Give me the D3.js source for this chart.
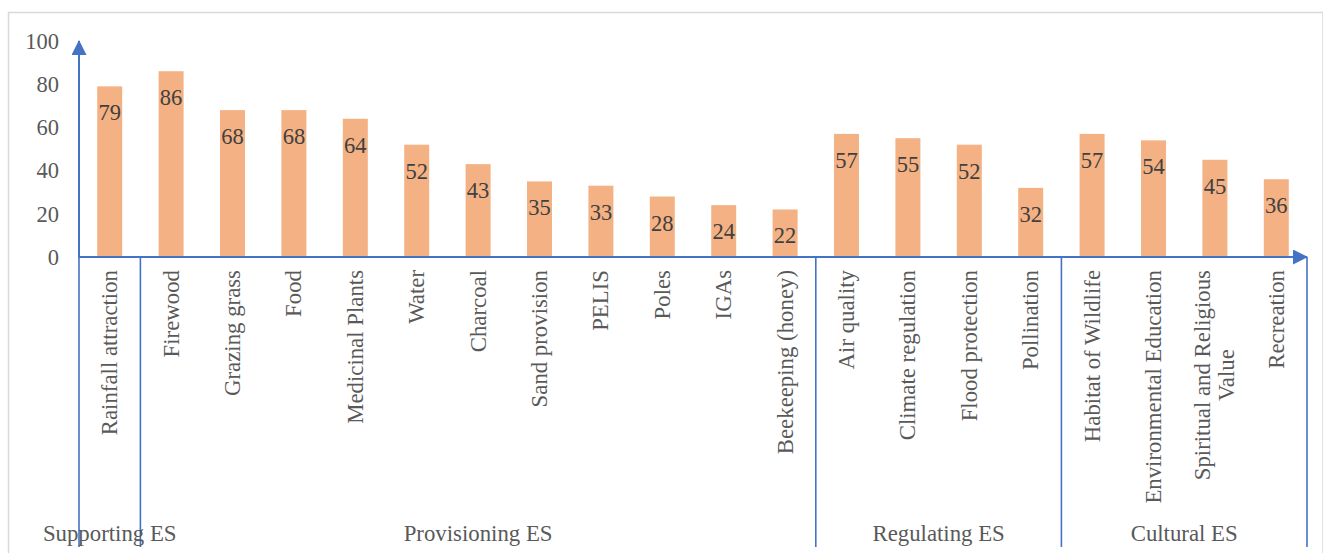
<!DOCTYPE html>
<html>
<head>
<meta charset="utf-8">
<script src="https://cdn.jsdelivr.net/npm/d3@7"></script>
<style>
  html, body { margin: 0; padding: 0; background: #ffffff; }
  svg { display: block; }
  svg text { font-family: "Liberation Serif", "Times New Roman", serif !important; }
</style>
</head>
<body>
<svg id="chart" width="1323" height="553"></svg>
<script>
// Ecosystem services and the share of respondents citing each (%)
const categories = [
  "Rainfall attraction",
  "Firewood", "Grazing grass", "Food", "Medicinal Plants", "Water", "Charcoal",
  "Sand provision", "PELIS", "Poles", "IGAs", "Beekeeping (honey)",
  "Air quality", "Climate regulation", "Flood protection", "Pollination",
  "Habitat of Wildlife", "Environmental Education", "Spiritual and Religious\nValue", "Recreation"
];
const values = [79, 86, 68, 68, 64, 52, 43, 35, 33, 28, 24, 22, 57, 55, 52, 32, 57, 54, 45, 36];
const groupNames = ["Supporting ES", "Provisioning ES", "Regulating ES", "Cultural ES"];
const groupSizes = [1, 11, 4, 4];
const yTicks = [0, 20, 40, 60, 80, 100];

const svg = d3.select("#chart");
const plotLeft = 79, plotRight = 1307, plotTop = 41, baseY = 257, bottomY = 547;
const axisColor = "#4472C4";
const textColor = "#595959";
const serif = "'Liberation Serif', 'Times New Roman', serif";
const labelSize = "22.8px";
const numSize = "22.5px";

// outer frame
svg.append("rect")
  .attr("x", 8.5).attr("y", 12.5)
  .attr("width", 1314.5).attr("height", 560)
  .attr("fill", "none").attr("stroke", "#d9d9d9").attr("stroke-width", 1.5);

const x = d3.scaleBand()
  .domain(categories)
  .range([plotLeft, plotRight])
  .paddingInner(0.593)
  .paddingOuter(0.2965);

const y = d3.scaleLinear().domain([0, 100]).range([baseY, plotTop]);

// arrow head
const defs = svg.append("defs");
defs.append("marker")
  .attr("id", "arrow")
  .attr("viewBox", "0 0 15 15")
  .attr("refX", 14).attr("refY", 7.5)
  .attr("markerWidth", 15).attr("markerHeight", 15)
  .attr("markerUnits", "userSpaceOnUse")
  .attr("orient", "auto")
  .append("path")
  .attr("d", "M0,0 L15,7.5 L0,15 Z")
  .attr("fill", axisColor);

// y axis tick labels
const yAxis = svg.append("g")
  .attr("transform", `translate(${plotLeft},0)`)
  .call(d3.axisLeft(y).tickValues(yTicks).tickSize(0).tickPadding(20));
yAxis.attr("font-family", null).attr("font-size", null);
yAxis.select(".domain").remove();
yAxis.selectAll("text")
  .attr("fill", textColor)
  .style("font-size", numSize)
  .style("font-family", serif);

// bars
svg.append("g").selectAll("rect")
  .data(categories)
  .join("rect")
  .attr("x", d => x(d))
  .attr("y", (d, i) => y(values[i]))
  .attr("width", x.bandwidth())
  .attr("height", (d, i) => y(0) - y(values[i]))
  .attr("fill", "#F4B183");

// value labels inside bars
svg.append("g").selectAll("text")
  .data(categories)
  .join("text")
  .attr("x", d => x(d) + x.bandwidth() / 2)
  .attr("y", (d, i) => y(values[i]) + 34)
  .attr("text-anchor", "middle")
  .attr("fill", "#404040")
  .style("font-family", serif)
  .style("font-size", numSize)
  .text((d, i) => values[i]);

// group separators (category axis boundaries)
const step = x.step();
const bounds = [0];
groupSizes.forEach(s => bounds.push(bounds[bounds.length - 1] + s));
const boundX = k => plotLeft + step * k;

svg.append("g").selectAll("line")
  .data(bounds)
  .join("line")
  .attr("x1", k => boundX(k)).attr("x2", k => boundX(k))
  .attr("y1", baseY).attr("y2", bottomY)
  .attr("stroke", axisColor).attr("stroke-width", 1.6);

// axes lines with arrows
svg.append("line")
  .attr("x1", plotLeft).attr("y1", baseY + 1)
  .attr("x2", plotLeft).attr("y2", plotTop)
  .attr("stroke", axisColor).attr("stroke-width", 2)
  .attr("marker-end", "url(#arrow)");
svg.append("line")
  .attr("x1", plotLeft).attr("y1", baseY)
  .attr("x2", plotRight).attr("y2", baseY)
  .attr("stroke", axisColor).attr("stroke-width", 2)
  .attr("marker-end", "url(#arrow)");

// rotated category labels
const labelTop = 270;
const lineGap = 24;
const catG = svg.append("g");
categories.forEach(c => {
  const lines = c.split("\n");
  const cx = x(c) + x.bandwidth() / 2;
  const g = catG.append("g").attr("transform", `translate(${cx},0) rotate(-90)`);
  const texts = lines.map((ln, j) => g.append("text")
    .attr("fill", textColor)
    .style("font-family", serif)
    .style("font-size", labelSize)
    .attr("text-anchor", "middle")
    .attr("y", (j - (lines.length - 1) / 2) * lineGap)
    .attr("dy", "0.33em")
    .text(ln));
  const maxLen = d3.max(texts, t => t.node().getComputedTextLength());
  texts.forEach(t => t.attr("x", -(labelTop + maxLen / 2)));
});

// group labels
svg.append("g").selectAll("text")
  .data(groupNames)
  .join("text")
  .attr("x", (d, i) => i === 0 ? x(categories[0]) + x.bandwidth() / 2 : (boundX(bounds[i]) + boundX(bounds[i + 1])) / 2)
  .attr("y", 541)
  .attr("text-anchor", "middle")
  .attr("fill", textColor)
  .style("font-family", serif)
  .style("font-size", labelSize)
  .text(d => d);
</script>
</body>
</html>
